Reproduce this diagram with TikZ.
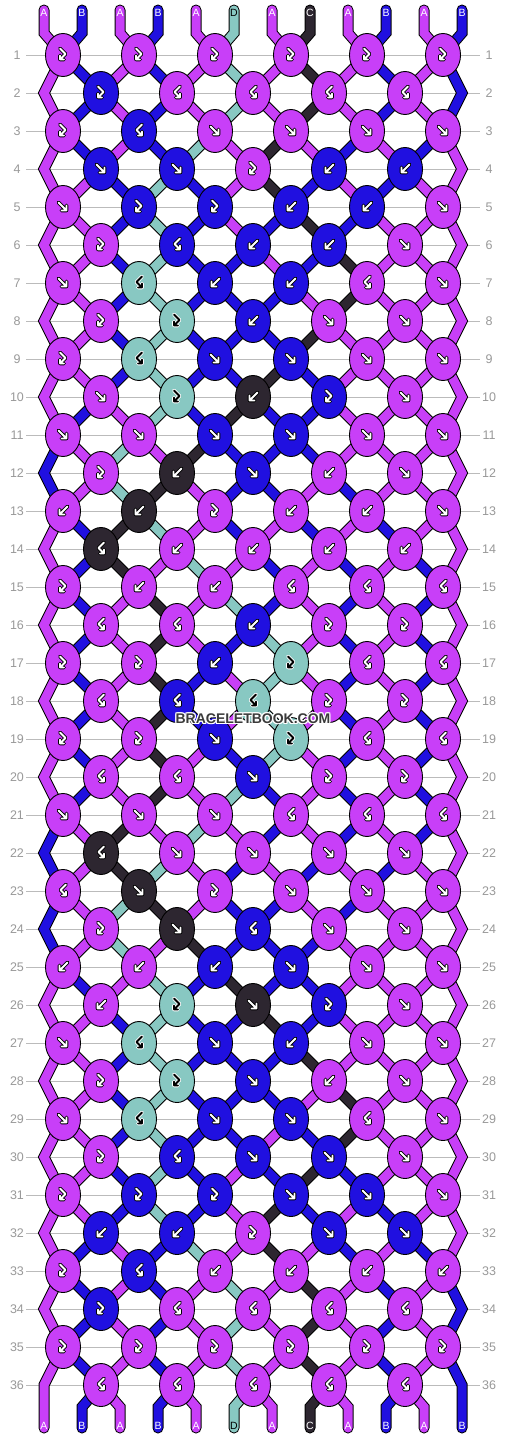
\documentclass[tikz,border=0pt]{standalone}
\usepackage{fontspec}
\setmainfont{Liberation Sans}
\usetikzlibrary{shapes.geometric}
\definecolor{colA}{HTML}{C83FF8}
\definecolor{colB}{HTML}{2010E0}
\definecolor{colC}{HTML}{2D2630}
\definecolor{colD}{HTML}{88C8C2}
\definecolor{gridgray}{HTML}{BBBBBB}
\definecolor{numgray}{HTML}{999999}
\definecolor{wmgray}{HTML}{3A3A3A}
\def\icfA{white}\def\icoA{black}
\def\icfB{white}\def\icoB{black}
\def\icfC{white}\def\icoC{black}
\def\icfD{black}\def\icoD{white}
\def\lbA{white}\def\lbB{white}\def\lbC{white}\def\lbD{black}
\newcommand\xodd[1]{\ifcase#1\or63\or63\or139\or139\or215\or215\or291\or291\or367\or367\or443\or443\fi}
\newcommand\xeven[1]{\ifcase#1\or44\or101\or101\or177\or177\or253\or253\or329\or329\or405\or405\or462\fi}
\newcommand\setS[2]{\expandafter\xdef\csname sS#1\endcsname{#2}}
\newcommand\getS[1]{\csname sS#1\endcsname}
\newcommand\mkcc[2]{\ifnum\pass=0 \def\cc{black}\def\lw{11}\else\edef\cc{col\csname st-#1-#2\endcsname}\def\lw{9}\fi}
\newcommand\twostroke[3]{\draw[line width=3.8,color=#2] #1;\draw[line width=1.9,color=#3] #1;}
\newcommand\icon[4]{%
  \begin{scope}[shift={(#1.center)},line cap=round,line join=round]
  \if f#2\relax\twostroke{(-4.5,-4.5)--(3.5,3.5) (3.5,-1.5)--(3.5,3.5)--(-1.5,3.5)}{#4}{#3}\fi
  \if b#2\relax\twostroke{(4.5,-4.5)--(-3.5,3.5) (-3.5,-1.5)--(-3.5,3.5)--(1.5,3.5)}{#4}{#3}\fi
  \if g#2\relax\twostroke{(-3,-6.5)--(2.5,-1)--(-3,4.5) (-3,0.5)--(-3,4.5)--(1,4.5)}{#4}{#3}\fi
  \if h#2\relax\twostroke{(3,-6.5)--(-2.5,-1)--(3,4.5) (3,0.5)--(3,4.5)--(-1,4.5)}{#4}{#3}\fi
  \end{scope}}
\tikzset{
  strand/.style={line cap=round,line join=miter},
  knot/.style={ellipse,draw=black,line width=0.9,minimum width=35,minimum height=43,inner sep=0},
  rownum/.style={font=\fontsize{12.5}{12.5}\selectfont,text=numgray,inner sep=0},
  lbl/.style={font=\fontsize{10.5}{10.5}\selectfont,inner sep=0},
  wm/.style={font=\bfseries\fontsize{14}{14}\selectfont,inner sep=0}
}
\begin{document}
\begin{tikzpicture}[x=1pt,y=-1pt]
\useasboundingbox (0,0) rectangle (506,1440);
\fill[white] (0,0) rectangle (506,1440);
% ---- simulation of the strings
\foreach \p/\c in {1/A,2/B,3/A,4/B,5/A,6/D,7/A,8/C,9/A,10/B,11/A,12/B}{%
  \setS{\p}{\c}\expandafter\xdef\csname st-0-\p\endcsname{\c}}
\foreach \ks [count=\ri] in {%
 {g,g,g,g,g,g},{g,h,h,h,h},{g,h,f,f,f,f},{f,f,g,b,b},{f,g,g,b,b,f},{g,h,b,b,f},
 {f,h,b,b,h,f},{g,g,b,f,f},{g,h,f,f,f,f},{f,g,b,g,f},{f,f,f,f,f,f},{g,b,f,b,f},
 {b,b,g,b,b,f},{h,b,b,b,b},{g,b,b,h,h,h},{h,h,b,g,g},{g,g,b,g,h,h},{h,h,h,g,g},
 {g,g,f,g,h,h},{h,h,f,g,g},{f,f,f,h,h,h},{h,f,f,f,f},{h,f,g,f,f,f},{g,f,h,f,f},
 {b,b,b,f,f,f},{b,g,f,g,f},{f,h,f,b,f,f},{g,g,f,b,f},{f,h,f,f,h,f},{g,h,f,f,f},
 {g,g,g,f,f,f},{b,b,g,f,f},{g,h,b,b,b,b},{g,h,h,h,h},{g,g,g,g,g,g},{h,h,h,h,h}}{%
  \foreach \tk [count=\ki] in \ks {%
    \ifodd\ri\relax\edef\L{\the\numexpr2*\ki-1}\else\edef\L{\the\numexpr2*\ki}\fi
    \edef\R{\the\numexpr\L+1}%
    \edef\cL{\getS{\L}}\edef\cR{\getS{\R}}%
    \let\kc\cL\def\sw{0}%
    \if b\tk\relax\let\kc\cR\def\sw{1}\fi
    \if f\tk\relax\def\sw{1}\fi
    \if h\tk\relax\let\kc\cR\fi
    \expandafter\xdef\csname kc-\ri-\ki\endcsname{\kc}%
    \expandafter\xdef\csname kt-\ri-\ki\endcsname{\tk}%
    \ifnum\sw=1 \setS{\L}{\cR}\setS{\R}{\cL}\fi
  }%
  \foreach \p in {1,...,12}{\expandafter\xdef\csname st-\ri-\p\endcsname{\getS{\p}}}%
}
% ---- coordinates
\foreach \ri in {1,...,36}{%
  \edef\y{\the\numexpr17+38*\ri}%
  \foreach \p in {1,...,12}{%
    \ifodd\ri\relax\edef\x{\xodd{\p}}\else\edef\x{\xeven{\p}}\fi
    \coordinate (P-\ri-\p) at (\x,\y);}}
\foreach \p in {1,...,12}{\edef\x{\the\numexpr6+38*\p}%
  \coordinate (T-\p) at (\x,10); \coordinate (TT-\p) at (\x,33);
  \coordinate (BB-\p) at (\x,1407); \coordinate (B-\p) at (\x,1428);}
% ---- grid lines and row numbers
\foreach \ri in {1,...,36}{\edef\y{\the\numexpr17+38*\ri}%
  \coordinate (gl\ri) at (26,\y); \coordinate (gr\ri) at (480,\y);
  \draw[gridgray,line width=1] (gl\ri) -- (gr\ri);
  \node[rownum] (nl\ri) at (17,\y) {\ri};
  \node[rownum] (nr\ri) at (489,\y) {\ri};}
% ---- strings (outline pass, then colour pass)
\foreach \pass in {0,1}{%
  \foreach \p in {1,...,12}{\mkcc{0}{\p}\draw[strand,line width=\lw,color=\cc] (T-\p) -- (TT-\p) -- (P-1-\p);}
  \foreach \ri in {1,...,35}{\pgfmathtruncatemacro\rA{\ri+1}%
    \foreach \p in {2,...,11}{\mkcc{\ri}{\p}\draw[strand,line width=\lw,color=\cc] (P-\ri-\p) -- (P-\rA-\p);}}
  \foreach \ri in {1,3,...,33}{\pgfmathtruncatemacro\rA{\ri+1}\pgfmathtruncatemacro\rB{\ri+2}%
    \foreach \p in {1,12}{\mkcc{\ri}{\p}\draw[strand,line width=\lw,color=\cc] (P-\ri-\p) -- (P-\rA-\p) -- (P-\rB-\p);}}
  \foreach \p in {1,12}{\mkcc{35}{\p}\draw[strand,line width=\lw,color=\cc] (P-35-\p) -- (P-36-\p) -- (B-\p);}
  \foreach \p in {2,...,11}{\mkcc{36}{\p}\draw[strand,line width=\lw,color=\cc] (P-36-\p) -- (BB-\p) -- (B-\p);}
}
% ---- knots
\foreach \ri in {1,...,36}{%
  \ifodd\ri\relax\def\nk{6}\def\off{1}\else\def\nk{5}\def\off{0}\fi
  \foreach \ki in {1,...,\nk}{%
    \edef\L{\the\numexpr2*\ki-\off}%
    \edef\kc{\csname kc-\ri-\ki\endcsname}\edef\ty{\csname kt-\ri-\ki\endcsname}%
    \edef\fcol{\csname icf\kc\endcsname}\edef\ocol{\csname ico\kc\endcsname}%
    \node[knot,fill=col\kc] (K-\ri-\ki) at (P-\ri-\L) {};
    \icon{K-\ri-\ki}{\ty}{\fcol}{\ocol}
  }}
% ---- string labels
\foreach \p in {1,...,12}{%
  \edef\c{\csname st-0-\p\endcsname}\edef\tc{\csname lb\c\endcsname}%
  \node[lbl,text=\tc] (lt\p) at ([yshift=-2.5pt]T-\p) {\c};
  \edef\c{\csname st-36-\p\endcsname}\edef\tc{\csname lb\c\endcsname}%
  \node[lbl,text=\tc] (lb\p) at ([yshift=2pt]B-\p) {\c};}
% ---- watermark
\foreach \dx/\dy [count=\i] in {-1/0,1/0,0/-1,0/1,-1/-1,1/1,-1/1,1/-1}{%
  \node[wm,text=white] (wh\i) at (253+\dx,719+\dy) {BRACELETBOOK.COM};}
\node[wm,text=wmgray] (wm) at (253,719) {BRACELETBOOK.COM};
\end{tikzpicture}
\end{document}
